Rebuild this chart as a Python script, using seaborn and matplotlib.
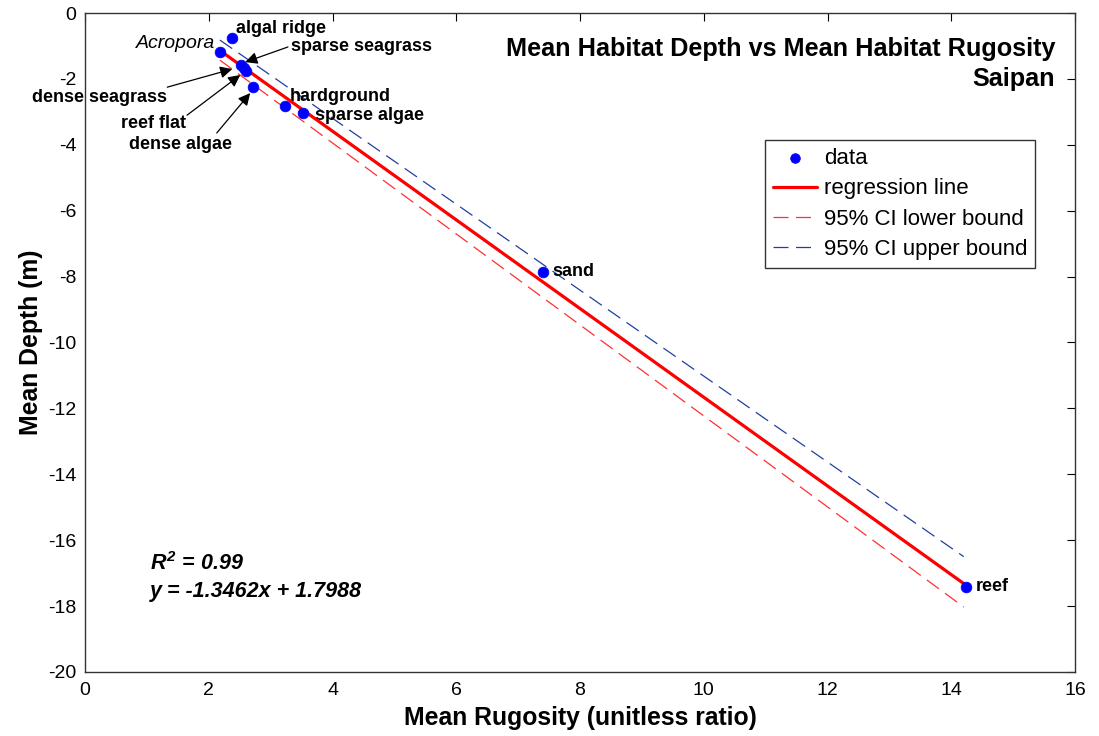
import matplotlib
matplotlib.use("Agg")
import matplotlib.pyplot as plt
import seaborn as sns
import pandas as pd

# ---- data ----
habitats = ["algal ridge", "Acropora", "sparse seagrass", "dense seagrass", "reef flat",
            "dense algae", "hardground", "sparse algae", "sand", "reef"]
rugosity = [2.37, 2.18, 2.52, 2.60, 2.57, 2.72, 3.23, 3.52, 7.40, 14.23]
depth = [-0.76, -1.18, -1.58, -1.75, -1.68, -2.25, -2.82, -3.02, -7.86, -17.42]

slope = -1.3462
intercept = 1.7988
r_squared = 0.99

fit_x = [2.18, 14.20]
lower_y = [-1.43, -18.03]
upper_y = [-0.82, -16.50]

x_ticks = list(range(0, 17, 2))
y_ticks = list(range(-20, 1, 2))

sns.set_theme(style="white")
plt.rcParams["font.family"] = ["Liberation Sans", "DejaVu Sans"]
plt.rcParams["axes.unicode_minus"] = False
plt.rcParams["text.color"] = "black"
plt.rcParams["axes.labelcolor"] = "black"
plt.rcParams["xtick.color"] = "black"
plt.rcParams["ytick.color"] = "black"
plt.rcParams["xtick.direction"] = "in"
plt.rcParams["ytick.direction"] = "in"
plt.rcParams["mathtext.fontset"] = "custom"
plt.rcParams["mathtext.rm"] = "Liberation Sans:italic:bold"
plt.rcParams["mathtext.it"] = "Liberation Sans:italic:bold"
plt.rcParams["mathtext.bf"] = "Liberation Sans:italic:bold"

fig = plt.figure(figsize=(10.99, 7.36), dpi=100)
ax = fig.add_axes([0.0773, 0.087, 0.9010, 0.8953])

df = pd.DataFrame({"x": rugosity, "y": depth})
fit_df = pd.DataFrame({"x": fit_x, "y": [slope * v + intercept for v in fit_x]})
low_df = pd.DataFrame({"x": fit_x, "y": lower_y})
up_df = pd.DataFrame({"x": fit_x, "y": upper_y})

sns.scatterplot(data=df, x="x", y="y", ax=ax, color="#0000ff", s=60, edgecolor="#0000ff",
                linewidth=0.5, label="data", zorder=5)
sns.lineplot(data=fit_df, x="x", y="y", ax=ax, color="#ff0000", linewidth=2.3,
             label="regression line", zorder=4)
sns.lineplot(data=low_df, x="x", y="y", ax=ax, color="#ff3030", linewidth=0.9,
             label="95% CI lower bound", zorder=3)
sns.lineplot(data=up_df, x="x", y="y", ax=ax, color="#2040a0", linewidth=0.9,
             label="95% CI upper bound", zorder=3)
ax.lines[1].set_dashes([12, 6])
ax.lines[2].set_dashes([12, 6])

ax.set_xlim(0, 16)
ax.set_ylim(-20, 0)
ax.set_xticks(x_ticks)
ax.set_yticks(y_ticks)
ax.tick_params(axis="both", labelsize=14, length=6, width=0.8, top=True, right=True,
               colors="black")
ax.tick_params(axis="x", pad=7)
ax.tick_params(axis="y", pad=6)
for s in ax.spines.values():
    s.set_color("#333333")
    s.set_linewidth(1.0)

ax.set_xlabel("Mean Rugosity (unitless ratio)", fontsize=17.8, fontweight="bold", labelpad=5)
ax.set_ylabel("Mean Depth (m)", fontsize=17.8, fontweight="bold", labelpad=4)

ax.text(15.68, -1.09, "Mean Habitat Depth vs Mean Habitat Rugosity", ha="right", va="center",
        fontsize=18.2, fontweight="bold")
ax.text(15.68, -2.0, "Saipan", ha="right", va="center", fontsize=18.2, fontweight="bold")

leg = ax.legend(loc="upper left", bbox_to_anchor=(0.687, 0.807), borderaxespad=0,
                fontsize=16, frameon=True, fancybox=False, edgecolor="black",
                handlelength=2.0, borderpad=0.35, labelspacing=0.42, handletextpad=0.3,
                markerscale=0.9)
leg.get_frame().set_linewidth(1.0)

# labels
ann_font = dict(fontsize=13, fontweight="bold", color="black")
ax.text(2.44, -0.455, "algal ridge", ha="left", va="center", **ann_font)
ax.text(2.10, -0.91, "Acropora", ha="right", va="center", fontsize=14, style="italic", color="black")
ax.text(3.33, -1.03, "sparse seagrass", ha="left", va="center", **ann_font)
ax.text(1.33, -2.55, "dense seagrass", ha="right", va="center", **ann_font)
ax.text(1.63, -3.34, "reef flat", ha="right", va="center", **ann_font)
ax.text(2.38, -4.00, "dense algae", ha="right", va="center", **ann_font)
ax.text(3.31, -2.52, "hardground", ha="left", va="center", **ann_font)
ax.text(3.72, -3.10, "sparse algae", ha="left", va="center", **ann_font)
ax.text(7.56, -7.86, "sand", ha="left", va="center", **ann_font)
ax.text(14.40, -17.42, "reef", ha="left", va="center", **ann_font)

arrow = dict(arrowstyle="-|>", color="black", lw=0.9, mutation_scale=18, shrinkA=0, shrinkB=0)
ax.annotate("", xy=(2.59, -1.49), xytext=(3.28, -1.03), arrowprops=arrow)
ax.annotate("", xy=(2.38, -1.70), xytext=(1.33, -2.25), arrowprops=arrow)
ax.annotate("", xy=(2.51, -1.88), xytext=(1.65, -3.10), arrowprops=arrow)
ax.annotate("", xy=(2.67, -2.43), xytext=(2.13, -3.64), arrowprops=arrow)

ax.text(1.05, -16.70, f"$R^2$ = {r_squared:.2f}", fontsize=15.5, fontweight="bold",
        style="italic", va="center")
ax.text(1.05, -17.55, f"y = {slope:.4f}x + {intercept:.4f}", fontsize=15.5, fontweight="bold",
        style="italic", va="center")

fig.savefig("out.png", dpi=100)
